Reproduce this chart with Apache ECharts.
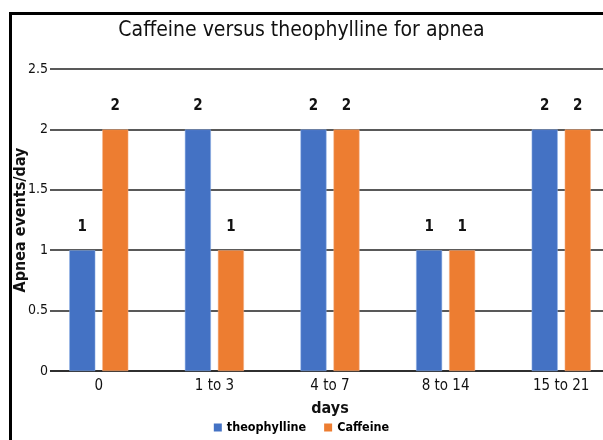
<!DOCTYPE html>
<html>
<head>
<meta charset="utf-8">
<script src="https://cdn.jsdelivr.net/npm/echarts@6/dist/echarts.min.js"></script>
<style>
html,body{margin:0;padding:0;background:#fff;}
#chart{width:603px;height:440px;}
</style>
</head>
<body>
<div id="chart"></div>
<script>
const categories = ['0', '1 to 3', '4 to 7', '8 to 14', '15 to 21'];
const theophylline = [1, 2, 2, 1, 2];
const caffeine = [2, 1, 2, 1, 2];
const yTicks = [0, 0.5, 1, 1.5, 2, 2.5];
const yAxisTitle = 'Apnea events/day';

const FONT = '"Liberation Sans Narrow", "DejaVu Sans Condensed", "Open Sans", sans-serif';
const chart = echarts.init(document.getElementById('chart'), null, {renderer: 'canvas'});
const labelStyle = {show: true, position: 'top', distance: 16, color: '#111', fontWeight: 'bold', fontSize: 15, fontFamily: FONT};
chart.setOption({
  animation: false,
  backgroundColor: '#fff',
  title: {
    text: 'Caffeine versus theophylline for apnea',
    left: 'center', top: 15,
    textStyle: {fontFamily: FONT, fontSize: 21, fontWeight: 'normal', color: '#111'}
  },
  graphic: [{
    type: 'rect', left: 8, top: 11,
    shape: {width: 700, height: 600},
    style: {fill: null, stroke: '#000', lineWidth: 3},
    z: 100
  }, {
    type: 'text', x: 21, y: 220, rotation: Math.PI / 2,
    style: {text: yAxisTitle, align: 'center', verticalAlign: 'middle',
      font: 'bold 16px ' + FONT, fill: '#111'}
  }],
  legend: {
    bottom: 1, left: 'center',
    itemWidth: 8, itemHeight: 8, itemGap: 18,
    icon: 'rect',
    itemStyle: {borderWidth: 0},
    textStyle: {fontFamily: FONT, fontSize: 12.5, fontWeight: 'bold', color: '#000'},
    data: ['theophylline', 'Caffeine']
  },
  grid: {left: 41, right: -16, top: 69, bottom: 69, containLabel: false, outerBoundsMode: 'none'},
  xAxis: {
    type: 'category', data: categories,
    name: 'days', nameLocation: 'middle', nameGap: 30,
    nameTextStyle: {fontFamily: FONT, fontSize: 16, fontWeight: 'bold', color: '#111'},
    axisLine: {lineStyle: {color: '#222', width: 1.5}},
    axisTick: {show: false},
    axisLabel: {fontFamily: FONT, fontSize: 15, color: '#111', margin: 8}
  },
  yAxis: {
    type: 'value', min: 0, max: 2.5, interval: 0.5,
    axisLine: {show: false},
    axisTick: {show: false},
    splitLine: {lineStyle: {color: '#222', width: 1.5}},
    axisLabel: {fontFamily: FONT, fontSize: 14, color: '#111', margin: -9,
      backgroundColor: '#fff', padding: [0, 2, 0, 0],
      formatter: v => yTicks.includes(v) ? String(v) : ''}
  },
  series: [
    {name: 'theophylline', type: 'bar', data: theophylline, barWidth: 26, barGap: '27%',
     itemStyle: {color: '#4472C4', borderColor: '#8fb0e6', borderWidth: 0.5}, label: labelStyle},
    {name: 'Caffeine', type: 'bar', data: caffeine, barWidth: 26, barGap: '27%',
     itemStyle: {color: '#ED7D31', borderColor: '#f5b58a', borderWidth: 0.5}, label: labelStyle}
  ]
});
</script>
</body>
</html>
